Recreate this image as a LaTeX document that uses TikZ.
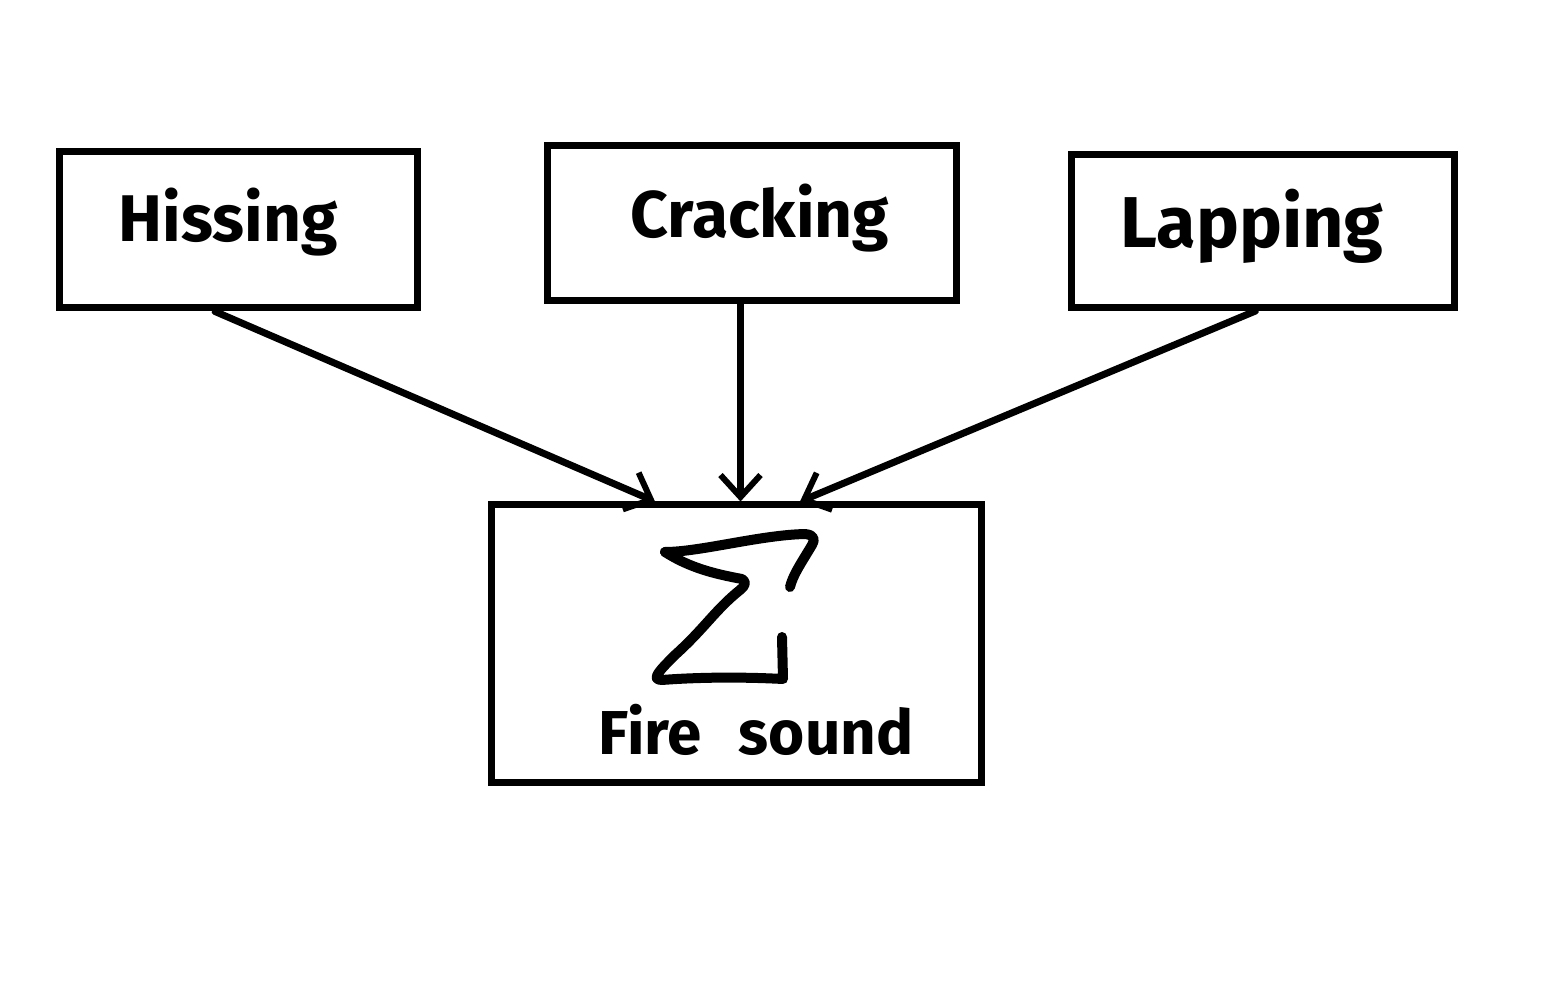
\documentclass[tikz,border=0pt]{standalone}
\usepackage{fontspec}
\setmainfont{Fira Sans}
\usetikzlibrary{arrows.meta}
\begin{document}
\begin{tikzpicture}[x=0.5pt,y=-0.5pt,
  line cap=round, line join=round,
  box/.style={draw=black, line width=3.5pt, inner sep=0pt, line join=miter},
  lbl/.style={font=\fontsize{33}{38}\selectfont\bfseries},
  arr/.style={line width=3.5pt, -{Straight Barb[length=11pt,width=20pt,line width=3pt]}},
  sketch/.style={line width=5pt}]
\useasboundingbox (0,0) rectangle (1560,1000);
\fill[white] (0,0) rectangle (1560,1000);
\node[box, minimum width=179pt, minimum height=78pt] (hiss) at (238,230) {};
\node[box, minimum width=204.5pt, minimum height=77.5pt] (crack) at (751.5,223.5) {};
\node[box, minimum width=191.5pt, minimum height=76.5pt] (lap) at (1262.5,231) {};
\node[box, minimum width=245pt, minimum height=138.5pt] (fire) at (736,643.5) {};
\node[lbl] (hisslbl) at (228,222) {Hissing};
\node[lbl] (cracklbl) at (760,218) {Cracking};
\node[lbl, font=\fontsize{36}{40}\selectfont\bfseries] (laplbl) at (1252,226) {Lapping};
\node[font=\fontsize{31}{36}\selectfont\bfseries] (firelbl) at (756,730) {Fire\hspace{0.6em}sound};
\draw[arr] ([xshift=-11.5pt]hiss.south) -- ([xshift=-40.5pt]fire.north);
\draw[arr] ([xshift=-5.5pt]crack.south) -- ([xshift=-5.5pt]crack.south |- fire.north);
\draw[arr] ([xshift=-3.5pt]lap.south) -- ([xshift=32pt]fire.north);
% zigzag symbol
\draw[sketch] (665,552) .. controls (700,552) and (760,535) .. (805,534)
  .. controls (815,535) and (815,540) .. (812,545)
  .. controls (800,565) and (793,575) .. (790,587);
\draw[sketch] (665,552) .. controls (690,568) and (715,574) .. (742,579)
  .. controls (747,582) and (745,586) .. (740,590)
  .. controls (715,610) and (705,628) .. (675,655)
  .. controls (660,670) and (650,680) .. (662,680)
  .. controls (700,677) and (745,677) .. (783,679)
  -- (782,637);
\end{tikzpicture}
\end{document}
